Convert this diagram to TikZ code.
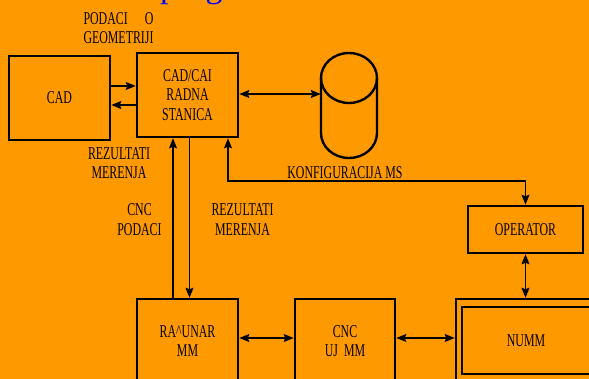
\documentclass[tikz,border=0pt]{standalone}
\usepackage{fontspec}
\setmainfont{Liberation Serif}[FakeStretch=0.66]
\newfontfamily\titlefont{Liberation Serif}
\usetikzlibrary{arrows.meta}
\definecolor{bg}{RGB}{255,153,0}
\definecolor{ttl}{RGB}{0,0,255}
\newcommand\lblfont{\fontsize{18}{19.5}\selectfont}
\begin{document}
\begin{tikzpicture}[x=1pt,y=-1pt,
  box/.style={draw=black, line width=2.6pt, minimum width=101pt, minimum height=84pt,
    inner sep=0pt, align=center, font=\lblfont},
  innerbox/.style={draw=black, line width=1.3pt, inner sep=0pt, align=center, font=\lblfont},
  lbl/.style={inner sep=0pt, align=center, font=\lblfont},
  conn/.style={draw=black, line width=1.2pt},
  arr/.style={conn, -{Stealth[length=10pt,width=8pt,inset=1.5pt]}},
  darr/.style={conn, {Stealth[length=10pt,width=8pt,inset=1.5pt]}-{Stealth[length=10pt,width=8pt,inset=1.5pt]}},
  cyl/.style={draw=black, line width=2.4pt}
]
\path[use as bounding box, fill=bg] (0,0) rectangle (589,379);

% partly cut-off title
\node[anchor=base west, font=\titlefont\fontsize{34}{34}\selectfont, text=ttl, inner sep=0pt] (title) at (25,-2) {Struktura programa};

% boxes
\node[box] (cad) at (59.5,98) {CAD};
\node[box] (cadcai) at (187.5,95) {CAD/CAI\\RADNA\\STANICA};
\node[box, minimum width=115pt, minimum height=47pt] (operator) at (525.5,229.5) {OPERATOR};
\node[box] (racunar) at (187.5,341) {RA\textasciicircum UNAR\\MM};
\node[box, minimum width=100pt] (cncmm) at (345,341) {CNC\\UJ\hspace{6pt}MM};
\node[box, minimum width=140pt] (numm) at (526,341) {};
\node[innerbox, minimum width=128pt, minimum height=67pt] (nummin) at (526,340.5) {NUMM};

% database cylinder
\node[inner sep=0pt, minimum width=56pt, minimum height=105pt] (db) at (349,105.5) {};
\draw[cyl] (349,78) ellipse [x radius=28, y radius=25];
\draw[cyl] (321,78) -- (321,133) arc[start angle=180, end angle=360, x radius=28, y radius=-25] -- (377,78);

% labels
\node[lbl] (lgeo) at (118.5,28) {\makebox[70pt][s]{PODACI O}\\GEOMETRIJI};
\node[lbl] (lrez1) at (119,163) {REZULTATI\\MERENJA};
\node[lbl] (lcnc) at (139.5,219.5) {CNC\\PODACI};
\node[lbl] (lrez2) at (242.5,219.5) {REZULTATI\\MERENJA};
\node[lbl] (lkonf) at (345,172.5) {KONFIGURACIJA MS};

% connectors
\draw[arr] ([yshift=12pt]cad.east) -- ([yshift=9pt]cadcai.west);
\draw[arr] ([yshift=-10pt]cadcai.west) -- ([yshift=-7pt]cad.east);
\draw[darr] ([yshift=1pt]cadcai.east) -- ([yshift=1pt]cadcai.east -| db.west);
\draw[arr] ([xshift=-14.5pt]racunar.north) -- ([xshift=-14.5pt]cadcai.south);
\draw[arr] ([xshift=2pt]cadcai.south) -- ([xshift=2pt]racunar.north);
\coordinate (kf) at (400,181);
\draw[darr] ([xshift=40.5pt]cadcai.south) |- (kf) -| (operator.north);
\draw[darr] (operator.south) -- (operator.south |- numm.north);
\draw[darr] ([yshift=3pt]racunar.east) -- ([yshift=3pt]cncmm.west);
\draw[darr] ([yshift=3pt]cncmm.east) -- ([yshift=3pt]cncmm.east -| numm.west);
\end{tikzpicture}
\end{document}
